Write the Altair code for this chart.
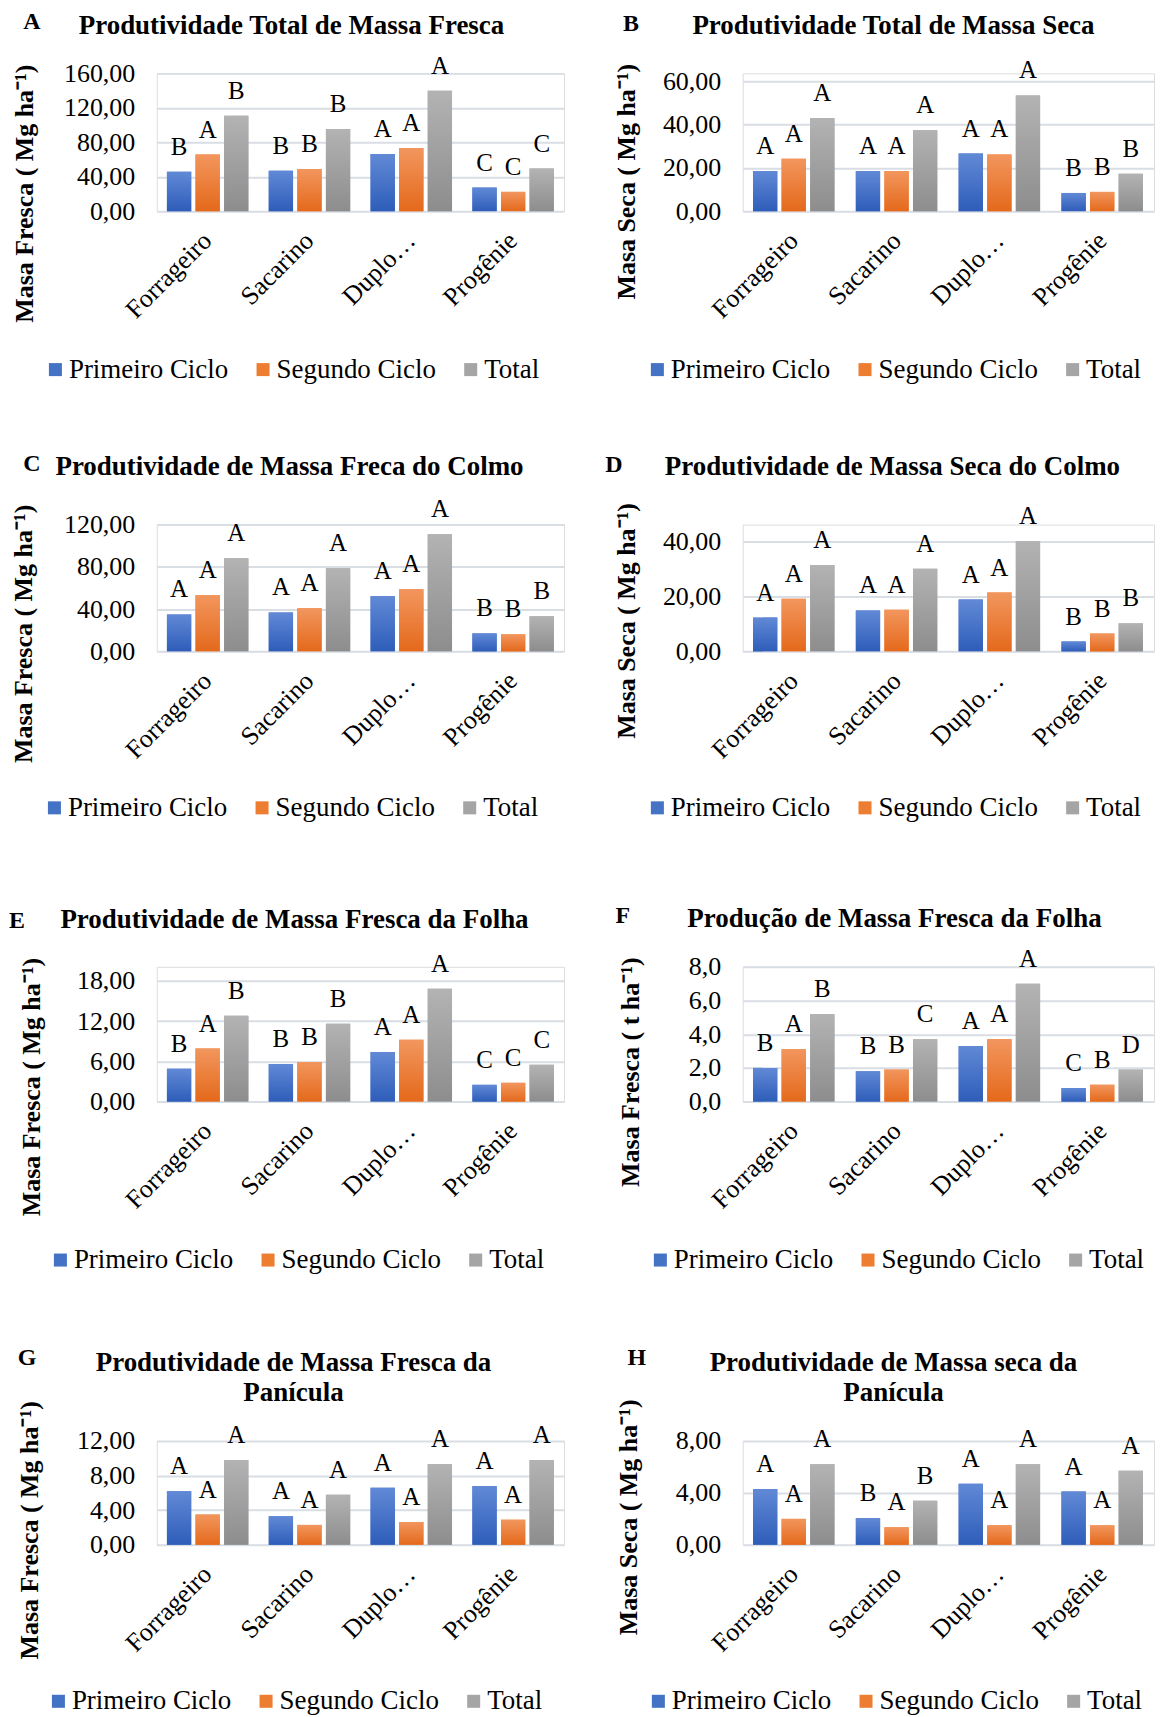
import altair as alt
import pandas as pd

FONT = "Liberation Serif"

categorias = ["Forrageiro", "Sacarino", "Duplo…", "Progênie"]
series = ["Primeiro Ciclo", "Segundo Ciclo", "Total"]

# A - Produtividade Total de Massa Fresca
a_prim = [45.7, 46.9, 66.4, 27.4]
a_seg = [65.8, 48.9, 73.4, 22.4]
a_tot = [110.7, 95.5, 139.8, 49.5]
a_let_prim = ["B", "B", "A", "C"]
a_let_seg = ["A", "B", "A", "C"]
a_let_tot = ["B", "B", "A", "C"]
a_ticks = [0, 40, 80, 120, 160]

# B - Produtividade Total de Massa Seca
b_prim = [18.5, 18.5, 26.6, 8.4]
b_seg = [24.2, 18.5, 26.2, 8.9]
b_tot = [43.1, 37.4, 53.5, 17.3]
b_let_prim = ["A", "A", "A", "B"]
b_let_seg = ["A", "A", "A", "B"]
b_let_tot = ["A", "A", "A", "B"]
b_ticks = [0, 20, 40, 60]

# C - Produtividade de Massa Freca do Colmo
c_prim = [35.0, 36.9, 52.1, 17.0]
c_seg = [53.0, 40.7, 58.7, 16.1]
c_tot = [88.1, 78.6, 110.8, 33.2]
c_let_prim = ["A", "A", "A", "B"]
c_let_seg = ["A", "A", "A", "B"]
c_let_tot = ["A", "A", "A", "B"]
c_ticks = [0, 40, 80, 120]

# D - Produtividade de Massa Seca do Colmo
d_prim = [12.3, 14.9, 18.9, 3.6]
d_seg = [19.2, 15.2, 21.4, 6.5]
d_tot = [31.5, 30.1, 40.2, 10.2]
d_let_prim = ["A", "A", "A", "B"]
d_let_seg = ["A", "A", "A", "B"]
d_let_tot = ["A", "A", "A", "B"]
d_ticks = [0, 20, 40]

# E - Produtividade de Massa Fresca da Folha
e_prim = [4.9, 5.6, 7.4, 2.5]
e_seg = [7.9, 5.9, 9.2, 2.8]
e_tot = [12.8, 11.6, 16.8, 5.5]
e_let_prim = ["B", "B", "A", "C"]
e_let_seg = ["A", "B", "A", "C"]
e_let_tot = ["B", "B", "A", "C"]
e_ticks = [0, 6, 12, 18]

# F - Produção de Massa Fresca da Folha
f_prim = [2.0, 1.8, 3.3, 0.8]
f_seg = [3.1, 1.9, 3.7, 1.0]
f_tot = [5.2, 3.7, 7.0, 1.9]
f_let_prim = ["B", "B", "A", "C"]
f_let_seg = ["A", "B", "A", "B"]
f_let_tot = ["B", "C", "A", "D"]
f_ticks = [0, 2, 4, 6, 8]

# G - Produtividade de Massa Fresca da Panícula
g_prim = [6.2, 3.3, 6.6, 6.8]
g_seg = [3.5, 2.3, 2.65, 2.9]
g_tot = [9.8, 5.8, 9.35, 9.8]
g_let_prim = ["A", "A", "A", "A"]
g_let_seg = ["A", "A", "A", "A"]
g_let_tot = ["A", "A", "A", "A"]
g_ticks = [0, 4, 8, 12]

# H - Produtividade de Massa seca da Panícula
h_prim = [4.3, 2.05, 4.7, 4.1]
h_seg = [2.0, 1.35, 1.5, 1.5]
h_tot = [6.2, 3.4, 6.2, 5.7]
h_let_prim = ["A", "B", "A", "A"]
h_let_seg = ["A", "A", "A", "A"]
h_let_tot = ["A", "B", "A", "A"]
h_ticks = [0, 4, 8]

solid = ["#4472C4", "#ED7D31", "#A5A5A5"]
grads = [("#6189d6", "#2e5db9"), ("#f2965e", "#e4691b"), ("#b3b3b3", "#8d8d8d")]

LEFT_W = 408
RIGHT_W = 412
LEFT_EXT = 147   # room left of the left plots (y labels / titles)
RIGHT_EXT = 138  # room left of the right plots


def panel(prim, seg, tot, lp, ls, lt, ticks, decimals, width, left_ext, row_h, plot_h,
          letter, letter_pos, title_lines, title_pos, ytitle, ytitle_pos, legend_pos, extent):
    rows = []
    for s, vals, lets in zip(series, [prim, seg, tot], [lp, ls, lt]):
        for c, v, l in zip(categorias, vals, lets):
            rows.append({"cat": c, "serie": s, "valor": v, "letra": l})
    df = pd.DataFrame(rows)

    label_expr = "replace(format(datum.value, '.%df'), '.', ',')" % decimals

    x = alt.X(
        "cat:N", sort=categorias,
        scale=alt.Scale(domain=categorias, paddingInner=0.2, paddingOuter=0.1),
        axis=alt.Axis(title=None, labelAngle=315, labelAlign="right", labelBaseline="middle",
                      labelFont=FONT, labelFontSize=26, labelColor="black", labelPadding=25,
                      ticks=False, domain=False, grid=False, labelLimit=400),
    )
    xo = alt.XOffset("serie:N", sort=series,
                     scale=alt.Scale(domain=series, paddingInner=0.15))
    y = alt.Y(
        "valor:Q",
        scale=alt.Scale(domain=[0, ticks[-1]], range=[row_h, row_h - plot_h], nice=False, zero=True),
        axis=alt.Axis(values=ticks, labelExpr=label_expr, labelFont=FONT, labelFontSize=26,
                      labelColor="black", labelPadding=22, ticks=False, domain=False,
                      grid=True, gridColor="#d9dde4", gridWidth=2, labelOverlap=False,
                      title=ytitle, titleFont=FONT, titleFontSize=26, titleFontWeight="bold",
                      titleColor="black", titleAngle=270, titleAlign="center",
                      titleBaseline="middle", titleX=ytitle_pos[0], titleY=ytitle_pos[1]),
    )
    base = alt.Chart(df).encode(x=x, xOffset=xo, y=y)

    bars = base.mark_bar().encode(
        color=alt.Color(
            "serie:N", sort=series,
            scale=alt.Scale(domain=series, range=solid),
            legend=alt.Legend(orient="none", legendX=legend_pos[0], legendY=legend_pos[1],
                              direction="horizontal", title=None, symbolType="square",
                              symbolSize=170, symbolStrokeWidth=0, labelFont=FONT,
                              labelFontSize=27, labelColor="black", columnPadding=21,
                              labelOffset=0, labelLimit=400),
        )
    )
    glayers = []
    for s, (top, bot) in zip(series, grads):
        glayers.append(
            base.transform_filter(alt.datum.serie == s).mark_bar(
                color=alt.LinearGradient(
                    gradient="linear",
                    stops=[alt.GradientStop(color=top, offset=0),
                           alt.GradientStop(color=bot, offset=1)],
                    x1=0, x2=0, y1=0, y2=1,
                )
            )
        )
    letters = base.mark_text(font=FONT, fontSize=25, color="black", baseline="alphabetic",
                             align="center", dy=-17).encode(text="letra:N")

    one = alt.Chart(pd.DataFrame({"k": [0]}))
    plet = one.mark_text(text=letter, font=FONT, fontWeight="bold", fontSize=24,
                         color="black", align="center", baseline="middle").encode(
        x=alt.value(letter_pos[0]), y=alt.value(letter_pos[1]))
    ptitle = one.mark_text(text=title_lines, font=FONT, fontWeight="bold", fontSize=27,
                           color="black", align="center", baseline="middle",
                           lineHeight=30).encode(
        x=alt.value(title_pos[0]), y=alt.value(title_pos[1]))
    # invisible spacers that fix the extent of each panel
    vspace = one.mark_rule(opacity=0, strokeWidth=1).encode(
        x=alt.value(0), y=alt.value(-extent[0]), y2=alt.value(extent[1]))
    hspace = one.mark_rule(opacity=0, strokeWidth=1).encode(
        x=alt.value(-left_ext), x2=alt.value(width), y=alt.value(0))

    return alt.layer(bars, *glayers, letters, plet, ptitle, vspace, hspace).properties(
        width=width, height=row_h)


YF = "Masa Fresca ( Mg ha⁻¹)"
YS = "Masa Seca ( Mg ha⁻¹)"

E1 = (63, 323)
E2 = (75, 324)
E3 = (65, 324)
E4 = (97, 275)

pA = panel(a_prim, a_seg, a_tot, a_let_prim, a_let_seg, a_let_tot, a_ticks, 2, LEFT_W, LEFT_EXT, 138, 138,
           "A", (-125, -51), "Produtividade Total de Massa Fresca", (135, -47),
           YF, (-132, 120), (-115, 283), E1)
pB = panel(b_prim, b_seg, b_tot, b_let_prim, b_let_seg, b_let_tot, b_ticks, 2, RIGHT_W, RIGHT_EXT, 138, 130,
           "B", (-112, -49), "Produtividade Total de Massa Seca", (151, -47),
           YS, (-116, 108), (-99, 283), E1)
pC = panel(c_prim, c_seg, c_tot, c_let_prim, c_let_seg, c_let_tot, c_ticks, 2, LEFT_W, LEFT_EXT, 127, 127,
           "C", (-125, -61), "Produtividade de Massa Freca do Colmo", (133, -58),
           YF, (-133, 109), (-116, 270), E2)
pD = panel(d_prim, d_seg, d_tot, d_let_prim, d_let_seg, d_let_tot, d_ticks, 2, RIGHT_W, RIGHT_EXT, 127, 110,
           "D", (-129, -60), "Produtividade de Massa Seca do Colmo", (150, -58),
           YS, (-116, 96), (-99, 270), E2)
pE = panel(e_prim, e_seg, e_tot, e_let_prim, e_let_seg, e_let_tot, e_ticks, 2, LEFT_W, LEFT_EXT, 135, 121,
           "E", (-140, -46), "Produtividade de Massa Fresca da Folha", (138, -47),
           YF, (-125, 120), (-110, 280), E3)
pF = panel(f_prim, f_seg, f_tot, f_let_prim, f_let_seg, f_let_tot, f_ticks, 1, RIGHT_W, RIGHT_EXT, 135, 135,
           "F", (-120, -51), "Produção de Massa Fresca da Folha", (152, -48),
           "Masa Fresca ( t ha⁻¹)", (-112, 105), (-96, 280), E3)
pG = panel(g_prim, g_seg, g_tot, g_let_prim, g_let_seg, g_let_tot, g_ticks, 2, LEFT_W, LEFT_EXT, 104, 104,
           "G", (-130, -83), ["Produtividade de Massa Fresca da", "Panícula"], (137, -78),
           YF, (-127, 89), (-112, 247), E4)
pH = panel(h_prim, h_seg, h_tot, h_let_prim, h_let_seg, h_let_tot, h_ticks, 2, RIGHT_W, RIGHT_EXT, 104, 104,
           "H", (-106, -83), ["Produtividade de Massa seca da", "Panícula"], (151, -78),
           YS, (-114, 76), (-98, 247), E4)

chart = alt.concat(pA, pB, pC, pD, pE, pF, pG, pH, columns=2,
                   spacing={"row": 52, "column": 39}).resolve_scale(
    color="independent").resolve_legend(color="independent").properties(
    padding={"left": 0, "top": 0, "right": 0, "bottom": 0}
).configure_view(stroke=None).configure(background="white")

chart.save("out.html", embed_options={"renderer": "svg", "actions": False})
